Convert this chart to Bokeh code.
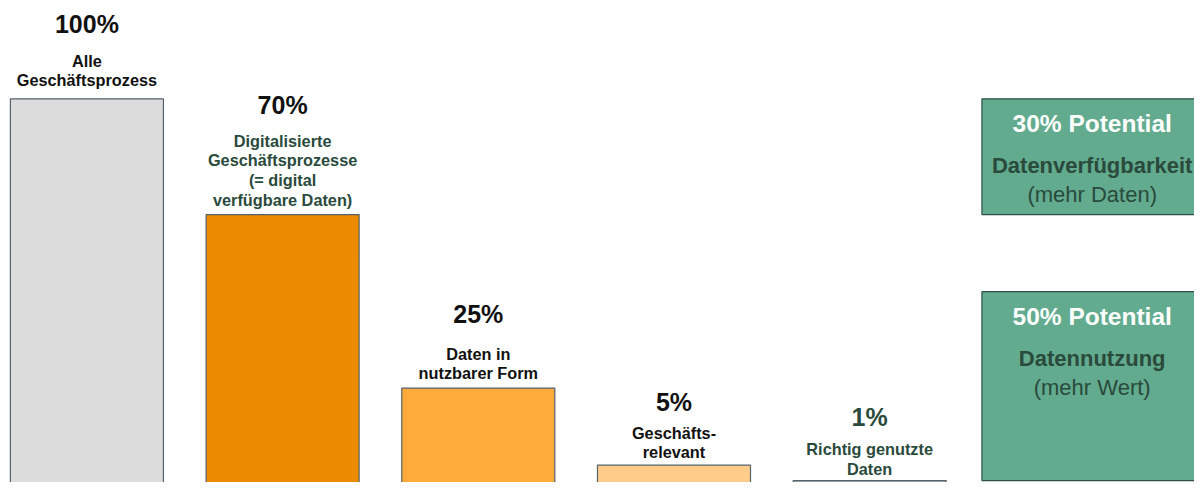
from bokeh.plotting import figure
from bokeh.models import Range1d, ColumnDataSource
from bokeh.core.properties import value
from bokeh.embed import file_html
from bokeh.resources import INLINE

# ---- data ----
percent_values = [100, 70, 25, 5, 1]
percent_labels = ["100%", "70%", "25%", "5%", "1%"]
bar_labels = [
    ["Alle", "Geschäftsprozess"],
    ["Digitalisierte", "Geschäftsprozesse", "(= digital", "verfügbare Daten)"],
    ["Daten in", "nutzbarer Form"],
    ["Geschäfts-", "relevant"],
    ["Richtig genutzte", "Daten"],
]
bar_colors = ["#DCDCDC", "#EC8A00", "#FFAB3B", "#FFCC8A", "#B0B0B0"]
label_colors = ["#111111", "#2A4A3C", "#111111", "#111111", "#2A4A3C"]
pct_colors = ["#111111", "#111111", "#111111", "#111111", "#2A4A3C"]

potential_titles = ["30% Potential", "50% Potential"]
potential_heads = ["Datenverfügbarkeit", "Datennutzung"]
potential_subs = ["(mehr Daten)", "(mehr Wert)"]
potential_bottoms = [70, 1]
potential_tops = [100, 50]

# ---- layout (pixels) ----
label_gap_px = [19, 15, 15, 13, 12]
pct_gap_px = [37, 36, 40, 31, 33]

FONT = "Liberation Sans"
GREEN = "#62AB8F"
DARK = "#2A4A3C"
S = 482 / 490  # vertical pixel scale

p = figure(width=1194, height=482, output_backend="svg", toolbar_location=None,
           x_range=Range1d(-87 / 197, (1202 - 87) / 197),
           y_range=Range1d(2 / 3.92, 492 / 3.92),
           min_border=0, outline_line_color=None)
p.axis.visible = False
p.grid.visible = False
p.background_fill_color = "white"
p.border_fill_color = "white"

xs = list(range(len(percent_values)))
src = ColumnDataSource(dict(x=xs, top=percent_values, color=bar_colors))
p.vbar(x="x", top="top", bottom=-2, width=0.782, fill_color="color",
       line_color="#56626c", line_width=1.2, source=src)

line_h = 20 * S
for i, (v, lines) in enumerate(zip(percent_values, bar_labels)):
    n = len(lines)
    gap = label_gap_px[i] * S
    for k, t in enumerate(lines):
        off = -(gap + (n - 1 - k) * line_h)
        p.text(x=[i], y=[v], text=[t], text_align="center", text_baseline="middle",
               y_offset=off, text_font=value(FONT), text_font_style="bold",
               text_font_size="16.3px", text_color=label_colors[i])
    off = -(gap + (n - 1) * line_h + pct_gap_px[i] * S)
    p.text(x=[i], y=[v], text=[percent_labels[i]], text_align="center",
           text_baseline="middle", y_offset=off, text_font=value(FONT),
           text_font_style="bold", text_font_size="25px", text_color=pct_colors[i])

# potential boxes
bx_left = (988 - 87) / 197
bx_right = 5.9
bx_center = (1099 - 87) / 197
p.quad(left=bx_left, right=bx_right, bottom=potential_bottoms, top=potential_tops,
       fill_color=GREEN, line_color="#2F5048", line_width=1.2)
for b, t in enumerate(potential_titles):
    top = potential_tops[b]
    p.text(x=[bx_center], y=[top], text=[t], text_align="center", text_baseline="middle",
           y_offset=25 * S, text_font=value(FONT), text_font_style="bold",
           text_font_size="24.5px", text_color="white")
    p.text(x=[bx_center], y=[top], text=[potential_heads[b]], text_align="center",
           text_baseline="middle", y_offset=68 * S, text_font=value(FONT),
           text_font_style="bold", text_font_size="22px", text_color=DARK)
    p.text(x=[bx_center], y=[top], text=[potential_subs[b]], text_align="center",
           text_baseline="middle", y_offset=97 * S, text_font=value(FONT),
           text_font_size="22px", text_color=DARK)

open("out.html", "w").write(file_html(p, INLINE))
